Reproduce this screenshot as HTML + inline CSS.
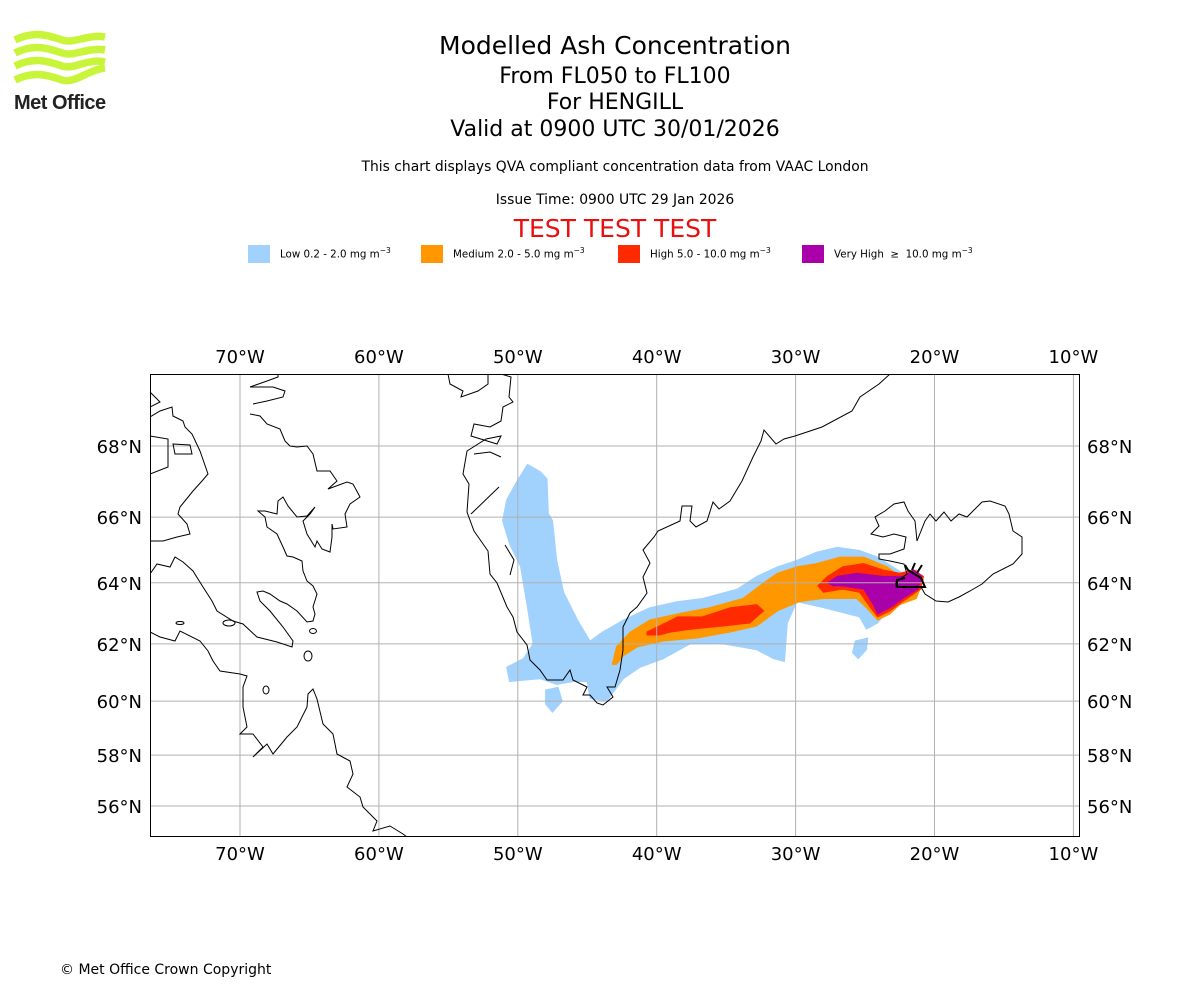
<!DOCTYPE html>
<html><head><meta charset="utf-8">
<style>
body{margin:0;background:#fff;}
#wrap{position:relative;width:1200px;height:1000px;overflow:hidden;font-family:"DejaVu Sans","Liberation Sans",sans-serif;}
.t{position:absolute;left:0;width:1230px;text-align:center;color:#000;white-space:nowrap;}
</style></head>
<body>
<div id="wrap">
<svg style="position:absolute;left:0;top:0" width="130" height="120">
 <g fill="none" stroke="#c8f53a" stroke-width="7.5">
  <path d="M15,40 C35,30 50,36 62,40 S88,34 105,37"/>
  <path d="M15,53 C35,43 50,49 62,53 S88,47 105,50"/>
  <path d="M15,66 C35,56 50,62 62,66 S88,58 105,62"/>
  <path d="M15,80 C35,70 50,76 62,80 S88,70 105,68"/>
 </g>
 <text x="14" y="109" font-family="Liberation Sans, sans-serif" font-weight="bold" font-size="20" fill="#222" letter-spacing="-0.5">Met Office</text>
</svg>
<div class="t" style="top:31px;font-size:25px;">Modelled Ash Concentration</div>
<div class="t" style="top:64px;font-size:22px;">From FL050 to FL100</div>
<div class="t" style="top:90px;font-size:22px;">For HENGILL</div>
<div class="t" style="top:117px;font-size:22px;">Valid at 0900 UTC 30/01/2026</div>
<div class="t" style="top:159px;font-size:13.9px;">This chart displays QVA compliant concentration data from VAAC London</div>
<div class="t" style="top:192px;font-size:13.9px;">Issue Time: 0900 UTC 29 Jan 2026</div>
<div class="t" style="top:214px;font-size:25px;color:#e8100f;">TEST TEST TEST</div>
<div style="position:absolute;top:245px;left:0;font-size:10.3px;">
 <div style="position:absolute;left:248px;width:300px;"><span style="position:absolute;width:22px;height:18px;background:#a0d2fd"></span><span style="position:absolute;left:32px;top:1px;white-space:nowrap">Low 0.2 - 2.0 mg m<sup style="font-size:7.5px">−3</sup></span></div>
 <div style="position:absolute;left:421px;width:300px;"><span style="position:absolute;width:22px;height:18px;background:#ff9800"></span><span style="position:absolute;left:32px;top:1px;white-space:nowrap">Medium 2.0 - 5.0 mg m<sup style="font-size:7.5px">−3</sup></span></div>
 <div style="position:absolute;left:618px;width:300px;"><span style="position:absolute;width:22px;height:18px;background:#ff2a00"></span><span style="position:absolute;left:32px;top:1px;white-space:nowrap">High 5.0 - 10.0 mg m<sup style="font-size:7.5px">−3</sup></span></div>
 <div style="position:absolute;left:802px;width:300px;"><span style="position:absolute;width:22px;height:18px;background:#aa00aa"></span><span style="position:absolute;left:32px;top:1px;white-space:nowrap">Very High &nbsp;≥&nbsp; 10.0 mg m<sup style="font-size:7.5px">−3</sup></span></div>
</div>
<svg id="map" style="position:absolute;left:0;top:0" width="1200" height="1000" font-family="DejaVu Sans, Liberation Sans, sans-serif">
 <defs><clipPath id="clip"><rect x="150" y="374" width="930" height="463"/></clipPath></defs>
 <g id="plume" clip-path="url(#clip)"></g>
 <g id="grid" clip-path="url(#clip)"></g>
 <g id="coast" clip-path="url(#clip)" fill="none" stroke="#000" stroke-width="1">
  <path d="M448,374 L450,384 L463,391 L461,397 L478,391 L488,384 L488,374 M501,374 L511,377 L509,397 L513,402 L503,407 L501,421 L490,427 L474,424 L471,436 L497,444 L501,436 L486,439 L467,451 L463,474 L469,484 L467,512 L474,531 L488,551 L490,574 L497,583 L507,607 L513,617 L517,632 L527,645 L530,660 L540,670 L547,680 L563,680 L570,670 L573,680 L587,687 L583,695 L590,695 L597,703 L603,705 L613,697 L607,687 L615,687 L620,670 L623,650 L623,627 L630,613 L637,607 L647,593 L643,577 L650,563 L643,550 L654,537 L658,531 L680,521 L682,506 L692,506 L690,521 L696,527 L707,521 L713,502 L719,509 L730,501 L742,481 L753,457 L761,441 L764,430 L776,444 L784,439 L795,436 L822,427 L852,411 L860,397 L879,384 L890,374 M499,487 L471,514 M501,457 L490,452 L474,454 M505,545 L514,560 L510,575"/>
  <path d="M871,534 L879,526 L875,517 L885,511 L894,504 L904,502 L908,511 L915,521 L917,541 L925,521 L930,514 L936,521 L944,512 L951,521 L959,514 L967,517 L982,502 L990,501 L1005,506 L1009,514 L1013,531 L1022,537 L1022,554 L1013,564 L993,574 L982,584 L970,591 L959,597 L948,602 L936,601 L925,594 L921,587 L909,587 L896,587 L896,582 L907,574 L904,564 L890,561 L879,559 L879,554 L890,554 L904,549 L906,537 L894,534 L883,537 Z"/>
  <path d="M278,374 L278,377 L267,381 L250,387 L273,387 L285,391 L283,397 L267,401 L253,404 M250,414 L260,416 L267,424 L280,429 L285,441 L290,446 L297,447 L307,446 L313,454 L317,471 L330,471 L337,481 L328,489 L347,482 L353,484 L360,497 L350,504 L345,514 L347,527 L333,529 L332,524 L332,537 L330,552 L322,549 L317,541 L315,547 L307,534 L303,521 L310,514 L315,507 L307,516 L297,517 L288,506 L283,497 L278,501 L277,514 L265,511 L258,511 L265,517 L267,527 L277,534 L283,547 L287,556 L293,557 L302,561 L303,571 L307,581 L313,586 L317,594 L313,607 L315,614 L313,621 L307,622 L297,611 L287,604 L280,601 L270,594 L263,591 L257,592 L260,601 L270,611 L283,627 L293,641 L292,647 L277,642 L257,637 L243,624 L233,621 L217,611 L212,601 L203,587 L193,571 L183,562 L175,557 L170,567 L157,564 L150,574 M150,417 L160,411 L172,407 L173,416 L183,421 L185,427 L192,434 L200,451 L208,474 L202,481 L193,491 L180,507 L178,514 L187,524 L190,534 L177,537 L163,541 L150,541 M150,436 L168,439 L168,467 L150,474 M173,444 L190,445 L192,454 L175,454 Z M150,392 L160,402 L150,407"/>
  <path d="M150,632 L160,637 L175,641 L180,631 L200,641 L208,651 L213,661 L220,671 L240,674 L247,676 L243,687 L243,707 L247,727 L240,734 L253,734 L263,747 L253,757 L267,744 L273,754 L287,737 L297,727 L307,707 L308,694 L313,689 L317,699 L323,724 L333,734 L337,754 L350,761 L353,774 L347,787 L360,797 L363,807 L377,821 L373,831 L390,826 L403,834 L407,837"/>
  <ellipse cx="229" cy="623" rx="6" ry="3"/>
  <ellipse cx="266" cy="690" rx="3" ry="4"/>
  <ellipse cx="313" cy="631" rx="3.5" ry="2.5"/>
  <ellipse cx="308" cy="656" rx="4" ry="5"/>
  <ellipse cx="180" cy="623" rx="4" ry="1.5"/>
  <path stroke-width="2" d="M897,587 L925,587 L921,578 L908,570 L905,565 M912,570 L915,563 M917,573 L922,565 M897,587 L897,580 L905,578"/>
 </g>
 <rect x="150.5" y="374.5" width="929" height="462" fill="none" stroke="#000" stroke-width="1"/>
 <g id="labels" font-size="18"></g>
</svg>
<div style="position:absolute;left:60px;top:962px;font-size:14px;">© Met Office Crown Copyright</div>
</div>
<script>
const lonTicks=[-70,-60,-50,-40,-30,-20,-10];
const lonLabels=["70°W","60°W","50°W","40°W","30°W","20°W","10°W"];
const latTicks=[68,66,64,62,60,58,56];
const latLabels=["68°N","66°N","64°N","62°N","60°N","58°N","56°N"];
const lowArea=[[-49.3,67.5],[-48.4,67.3],[-47.9,67.1],[-47.8,66.1],[-47.5,65.9],[-47.2,64.7],[-46.7,63.7],[-45.7,62.8],[-44.8,62.1],[-43.9,62.4],[-42.4,62.8],[-40.5,63.2],[-38.5,63.4],[-36.7,63.5],[-34.2,63.8],[-32.8,64.2],[-31.3,64.5],[-29.9,64.7],[-28.5,64.95],[-27.0,65.1],[-25.4,65.0],[-24.1,64.8],[-23.0,64.5],[-22.3,64.3],[-20.8,64.2],[-21.0,63.8],[-22.0,63.4],[-23.2,63.2],[-24.1,62.7],[-24.9,62.5],[-25.4,62.9],[-28.0,63.2],[-29.9,63.4],[-30.6,62.7],[-30.8,61.4],[-31.6,61.5],[-32.8,61.8],[-35.2,62.0],[-37.6,62.0],[-39.5,61.5],[-41.2,61.2],[-42.4,60.8],[-43.0,60.4],[-43.6,60.0],[-44.8,60.1],[-45.0,60.7],[-46.0,60.7],[-47.2,60.6],[-48.4,60.8],[-50.6,60.7],[-50.8,61.2],[-49.6,61.5],[-48.9,62.0],[-49.3,63.2],[-49.8,64.5],[-50.6,65.2],[-51.1,65.9],[-50.8,66.5],[-50.1,67.0]];
const lowPatchA=[[-48.0,60.4],[-47.1,60.5],[-46.8,60.0],[-47.5,59.6],[-48.0,59.9]];
const lowPatchB=[[-25.7,62.1],[-24.8,62.2],[-24.9,61.8],[-25.5,61.5],[-25.9,61.7]];
const mediumArea=[[-43.2,61.3],[-42.9,61.9],[-41.9,62.4],[-40.5,62.8],[-38.5,63.0],[-36.2,63.2],[-33.8,63.5],[-32.3,64.0],[-31.3,64.3],[-29.9,64.5],[-28.5,64.6],[-26.8,64.8],[-25.1,64.8],[-23.4,64.5],[-22.5,64.2],[-21.3,64.4],[-20.8,64.1],[-21.3,63.5],[-22.5,63.3],[-23.2,63.0],[-24.1,62.8],[-24.9,63.2],[-25.6,63.5],[-28.0,63.5],[-29.7,63.4],[-31.3,63.1],[-32.8,62.6],[-34.7,62.4],[-37.1,62.2],[-39.5,62.1],[-41.4,61.9],[-42.4,61.6],[-42.9,61.3]];
const highAreaWest=[[-40.7,62.4],[-39.8,62.6],[-38.5,62.9],[-36.7,62.9],[-34.7,63.2],[-32.8,63.3],[-32.3,63.1],[-33.3,62.7],[-35.2,62.6],[-37.4,62.5],[-39.0,62.4],[-39.8,62.3],[-40.7,62.3]];
const highAreaEast=[[-28.4,63.9],[-27.7,64.2],[-26.6,64.5],[-25.1,64.6],[-23.7,64.4],[-22.5,64.3],[-21.5,64.4],[-20.8,64.2],[-21.0,63.8],[-22.3,63.4],[-23.2,63.1],[-24.1,62.9],[-24.6,63.2],[-25.4,63.7],[-26.6,63.8],[-28.0,63.7]];
const veryHighArea=[[-27.7,64.0],[-27.0,64.2],[-25.6,64.3],[-23.7,64.2],[-22.3,64.2],[-21.5,64.4],[-20.9,64.2],[-21.2,63.8],[-22.3,63.5],[-23.2,63.2],[-24.1,63.0],[-24.4,63.3],[-25.1,63.8],[-26.6,63.9],[-27.3,63.9]];

const NS='http://www.w3.org/2000/svg';
const X0=150,X1=1080,Y0=374,Y1=837;
function merc(lat){return Math.log(Math.tan(Math.PI/4+lat*Math.PI/360));}
function xOf(lon){return 240+(lon+70)*13.89;}
function yOf(lat){return 446+(merc(68)-merc(lat))*795;}
function poly(pts,fill,name){
  const p=document.createElementNS(NS,'polygon');
  p.setAttribute('points',pts.map(d=>xOf(d[0]).toFixed(1)+','+yOf(d[1]).toFixed(1)).join(' '));
  p.setAttribute('fill',fill);
  p.setAttribute('stroke',fill);
  p.setAttribute('stroke-width','1');
  p.setAttribute('stroke-linejoin','round');
  
  
  document.getElementById('plume').appendChild(p);
}
poly(lowArea,'#a0d2fd','low-ash-area');
poly(lowPatchA,'#a0d2fd','low-ash-patch');
poly(lowPatchB,'#a0d2fd','low-ash-patch');
poly(mediumArea,'#ff9800','medium-ash-area');
poly(highAreaWest,'#ff2a00','high-ash-area');
poly(highAreaEast,'#ff2a00','high-ash-area');
poly(veryHighArea,'#aa00aa','very-high-ash-area');

const g=document.getElementById('grid'),lb=document.getElementById('labels');
function line(x1,y1,x2,y2,name){
  const l=document.createElementNS(NS,'line');
  l.setAttribute('x1',x1);l.setAttribute('y1',y1);l.setAttribute('x2',x2);l.setAttribute('y2',y2);
  l.setAttribute('stroke','#b0b0b0');l.setAttribute('stroke-width','1');
  
  
  g.appendChild(l);
}
function label(x,y,txt,anchor,name){
  const t=document.createElementNS(NS,'text');
  t.setAttribute('x',x);t.setAttribute('y',y);t.setAttribute('text-anchor',anchor);
  t.textContent=txt;
  
  
  lb.appendChild(t);
}
lonTicks.forEach((lon,i)=>{
  const x=xOf(lon);
  line(x,Y0,x,Y1,'lon-gridline');
  label(x,363,lonLabels[i],'middle','lon-tick-label-top');
  label(x,860,lonLabels[i],'middle','lon-tick-label-bottom');
});
latTicks.forEach((lat,i)=>{
  const y=yOf(lat);
  line(X0,y,X1,y,'lat-gridline');
  label(142,y+7,latLabels[i],'end','lat-tick-label-left');
  label(1087,y+7,latLabels[i],'start','lat-tick-label-right');
});
</script>
</body></html>
